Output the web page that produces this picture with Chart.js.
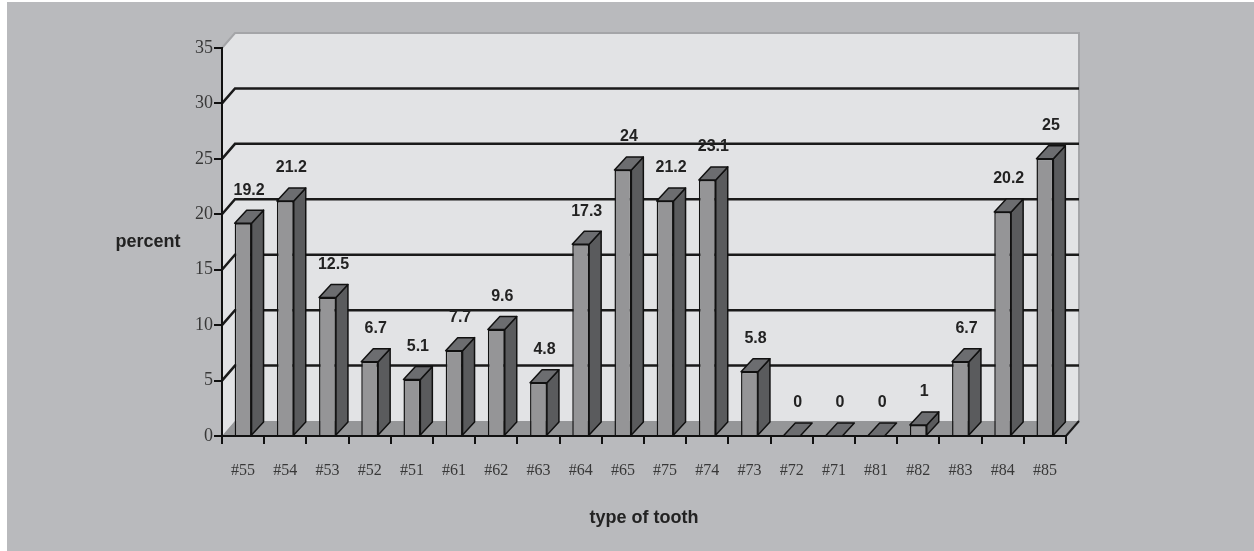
<!DOCTYPE html>
<html>
<head>
<meta charset="utf-8">
<script src="https://cdn.jsdelivr.net/npm/chart.js@4.4.1/dist/chart.umd.min.js"></script>
<style>
  html, body { margin: 0; padding: 0; background: #ffffff; }
  #wrap { width: 1254px; height: 551px; }
</style>
</head>
<body>
<div id="wrap"><canvas id="toothChart" width="1254" height="551"></canvas></div>
<script>
const teeth = ['#55', '#54', '#53', '#52', '#51', '#61', '#62', '#63', '#64', '#65',
               '#75', '#74', '#73', '#72', '#71', '#81', '#82', '#83', '#84', '#85'];
const percents = [19.2, 21.2, 12.5, 6.7, 5.1, 7.7, 9.6, 4.8, 17.3, 24,
                  21.2, 23.1, 5.8, 0, 0, 0, 1, 6.7, 20.2, 25];
const yTicks = [0, 5, 10, 15, 20, 25, 30, 35];

// depth offsets for the fake 3d look
const wallDx = 13, wallDy = -15;
const barDx = 12, barDy = -13;

const threeD = {
    id: 'threeD',
    beforeDraw(chart) {
        const ctx = chart.ctx;
        const a = chart.chartArea;
        const y = chart.scales.y;
        ctx.save();
        ctx.fillStyle = '#ffffff';
        ctx.fillRect(0, 0, chart.width, chart.height);
        ctx.fillStyle = '#b9babd';
        ctx.fillRect(7, 2, chart.width - 7, chart.height - 2);

        // back wall
        ctx.fillStyle = '#e2e3e5';
        ctx.fillRect(a.left + wallDx, a.top + wallDy, a.right - a.left, a.bottom - a.top);
        // left wall
        ctx.beginPath();
        ctx.moveTo(a.left, a.top);
        ctx.lineTo(a.left + wallDx, a.top + wallDy);
        ctx.lineTo(a.left + wallDx, a.bottom + wallDy);
        ctx.lineTo(a.left, a.bottom);
        ctx.closePath();
        ctx.fill();
        // floor
        ctx.fillStyle = '#959698';
        ctx.beginPath();
        ctx.moveTo(a.left, a.bottom);
        ctx.lineTo(a.left + wallDx, a.bottom + wallDy);
        ctx.lineTo(a.right + wallDx, a.bottom + wallDy);
        ctx.lineTo(a.right, a.bottom);
        ctx.closePath();
        ctx.fill();

        // wall border
        ctx.strokeStyle = '#a4a5a8';
        ctx.lineWidth = 2;
        ctx.beginPath();
        ctx.moveTo(a.left, a.top);
        ctx.lineTo(a.left + wallDx, a.top + wallDy);
        ctx.lineTo(a.right + wallDx, a.top + wallDy);
        ctx.lineTo(a.right + wallDx, a.bottom + wallDy);
        ctx.stroke();

        // gridlines on back and left wall
        ctx.strokeStyle = '#1a1a1a';
        ctx.lineWidth = 2.5;
        yTicks.forEach(v => {
            if (v === 0 || v === yTicks[yTicks.length - 1]) return;
            const py = y.getPixelForValue(v);
            ctx.beginPath();
            ctx.moveTo(a.left, py);
            ctx.lineTo(a.left + wallDx, py + wallDy);
            ctx.lineTo(a.right + wallDx, py + wallDy);
            ctx.stroke();
        });
        // right end of the floor
        ctx.lineWidth = 2;
        ctx.beginPath();
        ctx.moveTo(a.right, a.bottom);
        ctx.lineTo(a.right + wallDx, a.bottom + wallDy);
        ctx.stroke();
        ctx.restore();
    },
    afterDatasetsDraw(chart) {
        const ctx = chart.ctx;
        const a = chart.chartArea;
        const meta = chart.getDatasetMeta(0);
        ctx.save();
        ctx.lineWidth = 1.5;
        ctx.strokeStyle = '#111111';
        ctx.lineJoin = 'round';
        meta.data.forEach((bar, i) => {
            const p = bar.getProps(['x', 'y', 'base', 'width'], true);
            const x1 = p.x - p.width / 2, x2 = p.x + p.width / 2;
            const top = p.y, base = p.base;
            // side
            if (base - top > 0.5) {
                ctx.fillStyle = '#5a5b5d';
                ctx.beginPath();
                ctx.moveTo(x2, top);
                ctx.lineTo(x2 + barDx, top + barDy);
                ctx.lineTo(x2 + barDx, base + barDy);
                ctx.lineTo(x2, base);
                ctx.closePath();
                ctx.fill();
                ctx.stroke();
            }
            // top
            ctx.fillStyle = '#6c6d70';
            ctx.beginPath();
            ctx.moveTo(x1, top);
            ctx.lineTo(x1 + barDx, top + barDy);
            ctx.lineTo(x2 + barDx, top + barDy);
            ctx.lineTo(x2, top);
            ctx.closePath();
            ctx.fill();
            ctx.stroke();

            // value label
            ctx.fillStyle = '#222222';
            ctx.font = 'bold 16px "Liberation Sans", Arial, sans-serif';
            ctx.textAlign = 'center';
            ctx.textBaseline = 'bottom';
            ctx.fillText(String(percents[i]), p.x + barDx / 2, top + barDy - 12);
        });

        // axis titles
        ctx.fillStyle = '#222222';
        ctx.font = 'bold 18px "Liberation Sans", Arial, sans-serif';
        ctx.textAlign = 'center';
        ctx.textBaseline = 'middle';
        ctx.fillText('percent', 148, 242);
        ctx.fillText('type of tooth', (a.left + a.right) / 2, 518);
        ctx.restore();
    }
};

const toothCtx = document.getElementById('toothChart').getContext('2d');
new Chart(toothCtx, {
    type: 'bar',
    data: {
        labels: teeth,
        datasets: [{
            data: percents,
            backgroundColor: '#959597',
            borderColor: '#111111',
            borderWidth: 1.5,
            categoryPercentage: 1,
            barPercentage: 0.4
        }]
    },
    options: {
        responsive: false,
        animation: false,
        events: [],
        layout: {
            padding: { top: 48, right: 188, left: 0, bottom: 0 }
        },
        plugins: {
            legend: { display: false },
            tooltip: { enabled: false }
        },
        scales: {
            x: {
                afterFit(scale) { scale.height = 115; },
                border: { display: true, color: '#111111', width: 2 },
                grid: {
                    drawOnChartArea: false,
                    drawTicks: true,
                    tickLength: 8,
                    color: '#111111',
                    lineWidth: 2
                },
                ticks: {
                    color: '#383838',
                    padding: 17,
                    maxRotation: 0,
                    font: { family: '"Liberation Serif", "Times New Roman", serif', size: 16 }
                }
            },
            y: {
                min: 0,
                max: 35,
                afterFit(scale) { scale.width = 222; },
                afterBuildTicks(scale) {
                    scale.ticks = yTicks.map(v => ({ value: v }));
                },
                border: { display: true, color: '#111111', width: 2 },
                grid: {
                    drawOnChartArea: false,
                    drawTicks: true,
                    tickLength: 8,
                    color: '#111111',
                    lineWidth: 2
                },
                ticks: {
                    color: '#383838',
                    padding: 1,
                    font: { family: '"Liberation Serif", "Times New Roman", serif', size: 18 }
                }
            }
        }
    },
    plugins: [threeD]
});
</script>
</body>
</html>
